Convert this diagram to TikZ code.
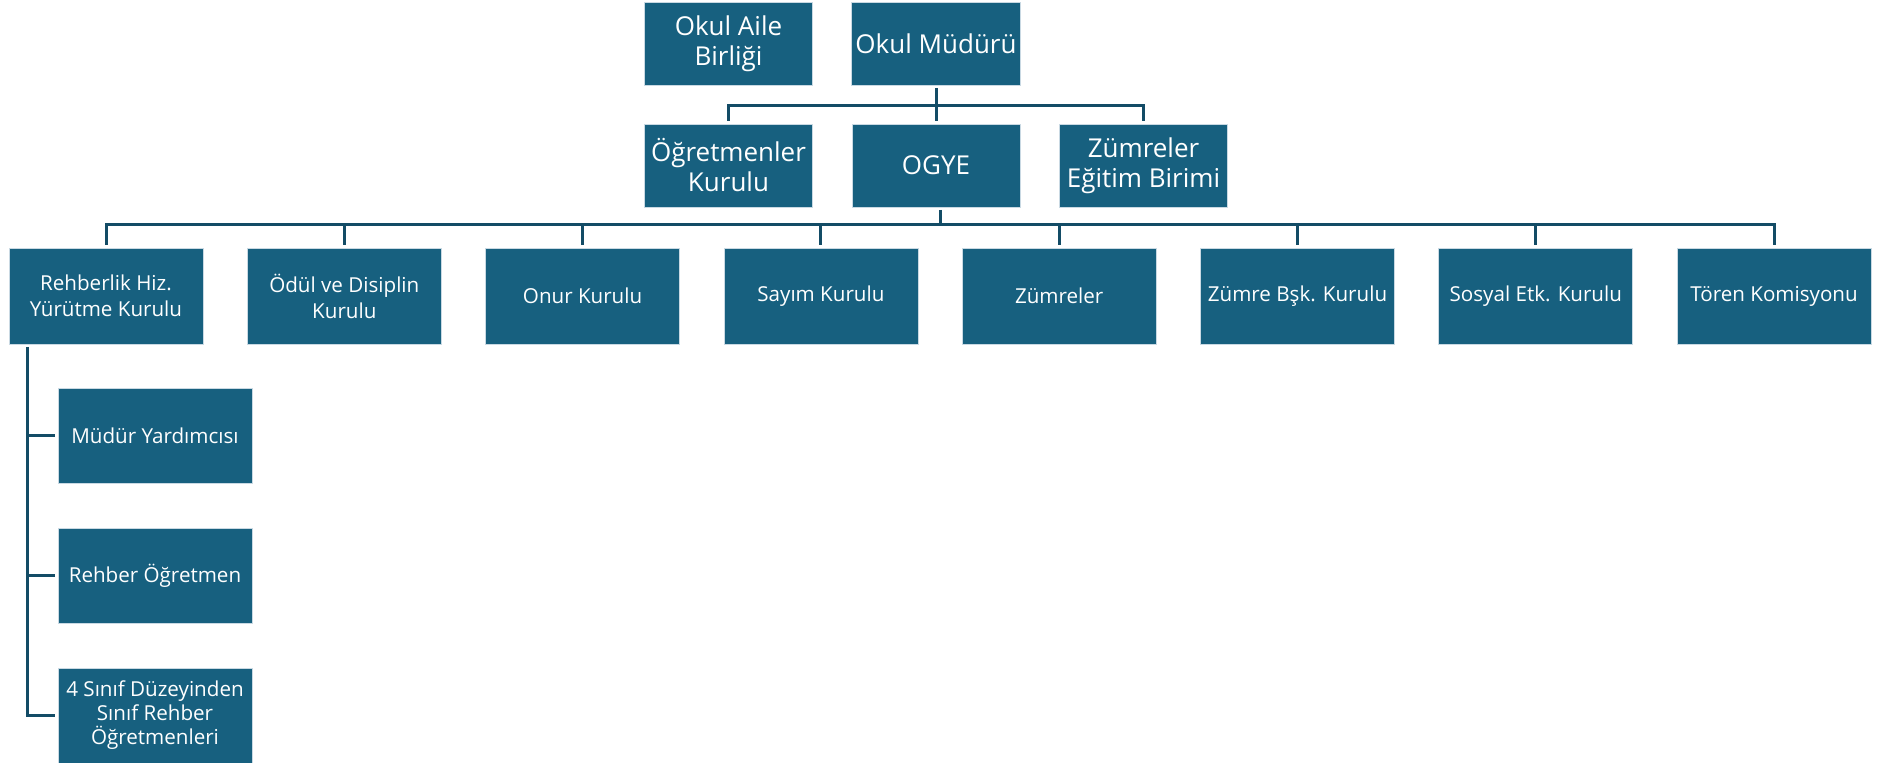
\documentclass[tikz,border=0pt]{standalone}
\usepackage{fontspec}
\setmainfont{Open Sans}
\usetikzlibrary{calc}
\definecolor{boxfill}{HTML}{17607F}
\definecolor{boxline}{HTML}{C9D9E3}
\definecolor{connc}{HTML}{134C66}
\begin{document}
\begin{tikzpicture}[x=0.5pt,y=-0.5pt,
  orgbox/.style={draw=boxline, line width=0.4pt, fill=boxfill, text=white, align=center, inner sep=2pt, outer sep=1.5pt},
  topbox/.style={orgbox, minimum width=84pt, minimum height=41.5pt, font=\fontsize{13}{15}\selectfont},
  midbox/.style={orgbox, minimum width=97pt, minimum height=48pt, font=\fontsize{10.3}{13}\selectfont},
  subbox/.style={orgbox, minimum width=97pt, minimum height=47.5pt, font=\fontsize{10.3}{12}\selectfont},
  conn/.style={draw=connc, line width=1.5pt}]
\useasboundingbox (0,0) rectangle (1881,763);
% top
\node[topbox] (aile) at (728.5,43.5) {Okul Aile\\Birliği};
\node[topbox] (mudur) at (936,43.5) {Okul Müdürü};
\node[topbox] (ogrt) at (728.5,165.5) {Öğretmenler\\Kurulu};
\node[topbox] (ogye) at (936,165.5) {OGYE};
\node[topbox] (zeb) at (1143.5,165.5) {Zümreler\\Eğitim Birimi};
\coordinate (b1) at (0,106);
\draw[conn] (mudur.south) -- (ogye.north);
\draw[conn] (ogrt.north) -- (ogrt.north |- b1) -- (zeb.north |- b1) -- (zeb.north);
% row 2
\foreach \i/\t in {1/{Rehberlik Hiz.\\Yürütme Kurulu},2/{Ödül ve Disiplin\\Kurulu},3/{Onur Kurulu},4/{Sayım Kurulu},5/{Zümreler},6/{Zümre Bşk. Kurulu},7/{Sosyal Etk. Kurulu},8/{Tören Komisyonu}}{
  \node[midbox] (r\i) at ({106+238.3*(\i-1)},296) {\t};
}
\coordinate (b2) at (0,225);
\draw[conn] ($(ogye.south)+(4,0)$) -- ($(ogye.south |- b2)+(4,0)$);
\draw[conn] (r1.north) -- (r1.north |- b2) -- (r8.north |- b2) -- (r8.north);
\foreach \i in {2,...,7}{
  \draw[conn] (r\i.north) -- (r\i.north |- b2);
}
% sub boxes
\node[subbox] (s1) at (155,436) {Müdür Yardımcısı};
\node[subbox] (s2) at (155,575.5) {Rehber Öğretmen};
\node[subbox] (s3) at (155,715.5) {4 Sınıf Düzeyinden\\Sınıf Rehber\\Öğretmenleri};
\coordinate (t) at (27,0);
\draw[conn] (r1.south -| t) |- (s3.west);
\draw[conn] (s1.west) -- (s1.west -| t);
\draw[conn] (s2.west) -- (s2.west -| t);
\end{tikzpicture}
\end{document}
